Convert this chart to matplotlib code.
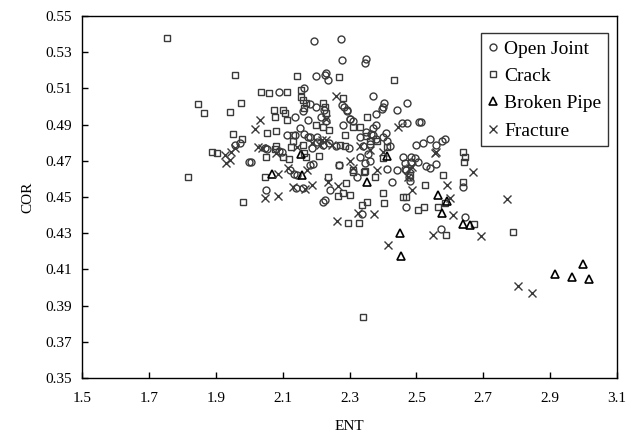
import matplotlib
matplotlib.use('Agg')
import matplotlib.pyplot as plt

plt.rcParams['font.family'] = ['Liberation Serif', 'DejaVu Serif']

# Open Joint
oj_ent = [2.193, 2.273, 2.277, 2.349, 2.346, 2.201, 2.229, 2.226, 2.236, 2.09, 2.164, 2.371,
          2.182, 2.177, 2.216, 2.276, 2.291, 2.301, 2.309, 2.379, 2.403, 2.399, 2.396, 2.441,
          2.471, 2.515, 2.508, 2.456, 2.473, 2.37, 2.365, 2.38, 2.40, 2.411, 2.50, 2.52,
          2.54, 2.56, 2.575, 2.585, 2.46, 2.485, 1.957, 1.972, 2.0, 2.005, 2.05, 2.047,
          2.052, 2.09, 2.097, 2.112, 2.137, 2.137, 2.153, 2.165, 2.176, 2.187, 2.182, 2.202,
          2.202, 2.22, 2.24, 2.26, 2.279, 2.301, 2.293, 2.283, 2.225, 2.23, 2.33, 2.35,
          2.37, 2.34, 2.36, 2.38, 2.33, 2.345, 2.355, 2.36, 2.299, 2.142, 2.182, 2.14,
          2.16, 2.226, 2.22, 2.241, 2.323, 2.336, 2.468, 2.426, 2.465, 2.47, 2.478, 2.48,
          2.411, 2.441, 2.466, 2.483, 2.496, 2.506, 2.53, 2.54, 2.56, 2.64, 2.644, 2.572,
          2.269, 2.122, 2.134, 2.19, 2.2, 2.16, 2.41, 2.42]
oj_cor = [0.5364, 0.5371, 0.5255, 0.5262, 0.5242, 0.5168, 0.5187, 0.5174, 0.5146, 0.508, 0.510, 0.5058,
          0.5014, 0.4925, 0.4944, 0.5008, 0.498, 0.4929, 0.4921, 0.4959, 0.5021, 0.500, 0.4985, 0.498,
          0.5021, 0.4916, 0.4916, 0.4907, 0.491, 0.488, 0.485, 0.490, 0.4833, 0.4811, 0.479, 0.480,
          0.482, 0.479, 0.481, 0.4819, 0.472, 0.472, 0.4787, 0.4797, 0.4695, 0.4692, 0.4539, 0.4769,
          0.4763, 0.4755, 0.475, 0.4843, 0.4843, 0.494, 0.488, 0.485, 0.483, 0.4769, 0.4833, 0.4833,
          0.4805, 0.479, 0.480, 0.478, 0.4898, 0.4929, 0.4975, 0.4995, 0.498, 0.492, 0.4833, 0.486,
          0.4845, 0.478, 0.4795, 0.482, 0.472, 0.469, 0.474, 0.470, 0.4769, 0.4622, 0.4677, 0.455,
          0.455, 0.4484, 0.4475, 0.4539, 0.4609, 0.4406, 0.4443, 0.4585, 0.469, 0.465, 0.461, 0.459,
          0.4653, 0.4649, 0.4653, 0.4695, 0.4714, 0.4695, 0.467, 0.466, 0.468, 0.4553, 0.4388, 0.4321,
          0.4677, 0.465, 0.4627, 0.4685, 0.500, 0.4975, 0.4855, 0.478]

# Crack
cr_ent = [1.753, 1.848, 1.866, 1.818, 1.888, 1.903, 1.957, 1.942, 1.976, 1.951, 1.977, 1.980,
          2.034, 2.060, 2.112, 2.142, 2.154, 2.269, 2.281, 2.075, 2.102, 2.077, 2.107, 2.112,
          2.052, 2.080, 2.226, 2.231, 2.353, 2.434, 2.160, 2.170, 2.155, 2.165, 2.222, 2.20,
          2.222, 2.24, 2.286, 2.311, 2.331, 2.35, 2.36, 2.381, 2.411, 2.132, 2.124, 2.162,
          2.164, 2.271, 2.286, 2.08, 2.077, 2.13, 2.10, 2.047, 2.236, 2.289, 2.266, 2.281,
          2.301, 2.309, 2.343, 2.311, 2.346, 2.269, 2.336, 2.351, 2.294, 2.328, 2.34, 2.401,
          2.403, 2.461, 2.469, 2.376, 2.64, 2.643, 2.645, 2.58, 2.525, 2.64, 2.565, 2.585,
          2.522, 2.505, 2.671, 2.588, 2.789, 2.17, 2.21, 2.05, 2.12, 2.40, 2.48]
cr_cor = [0.5377, 0.5012, 0.4966, 0.4609, 0.4747, 0.4741, 0.5174, 0.4971, 0.5021, 0.4848, 0.4822, 0.4471,
          0.508, 0.5073, 0.508, 0.5168, 0.509, 0.5161, 0.5045, 0.498, 0.498, 0.4944, 0.4962, 0.4925,
          0.4855, 0.4866, 0.4996, 0.4962, 0.4944, 0.5146, 0.5035, 0.502, 0.5055, 0.499, 0.502, 0.490,
          0.4889, 0.487, 0.4843, 0.4885, 0.4885, 0.484, 0.481, 0.4811, 0.4774, 0.4843, 0.4778, 0.4787,
          0.4741, 0.4787, 0.4782, 0.4782, 0.4765, 0.481, 0.472, 0.4612, 0.4612, 0.4579, 0.4506, 0.4524,
          0.4511, 0.464, 0.464, 0.4649, 0.4645, 0.4677, 0.4456, 0.4474, 0.4355, 0.4355, 0.3835, 0.452,
          0.4465, 0.4502, 0.4498, 0.4612, 0.475, 0.4691, 0.4723, 0.4621, 0.4566, 0.4585, 0.4443, 0.4465,
          0.4443, 0.4428, 0.4351, 0.4288, 0.4308, 0.472, 0.4725, 0.472, 0.471, 0.4715, 0.462]

# Broken Pipe
bp_ent = [2.067, 2.154, 2.157, 2.351, 2.411, 2.451, 2.454, 2.565, 2.59, 2.575, 2.638, 2.661,
          2.998, 2.915, 2.964, 3.015]
bp_cor = [0.4627, 0.4738, 0.4622, 0.4585, 0.4727, 0.4303, 0.4174, 0.4511, 0.448, 0.441, 0.4351, 0.4345,
          0.4128, 0.4073, 0.406, 0.4045]

# Fracture
fr_ent = [1.928, 1.942, 1.947, 1.957, 1.93, 2.017, 2.032, 2.027, 2.037, 2.087, 2.117, 2.047,
          2.087, 2.132, 2.172, 2.187, 2.167, 2.236, 2.266, 2.263, 2.326, 2.374, 2.381, 2.414,
          2.259, 2.187, 2.212, 2.217, 2.231, 2.249, 2.231, 2.142, 2.08, 2.446, 2.481, 2.476,
          2.486, 2.486, 2.555, 2.560, 2.59, 2.60, 2.61, 2.67, 2.55, 2.692, 2.77, 2.805,
          2.846, 2.31, 2.36, 2.30, 2.33, 2.40]
fr_cor = [0.4732, 0.4704, 0.475, 0.4769, 0.469, 0.4874, 0.4925, 0.4774, 0.4769, 0.463, 0.4658, 0.4493,
          0.4507, 0.4557, 0.4649, 0.4566, 0.4542, 0.4585, 0.4561, 0.4367, 0.4414, 0.4406, 0.4649, 0.4235,
          0.5058, 0.4797, 0.4787, 0.4815, 0.4815, 0.4787, 0.4933, 0.4778, 0.4745, 0.4888, 0.4658, 0.4612,
          0.4667, 0.4539, 0.4741, 0.475, 0.4566, 0.4493, 0.4401, 0.464, 0.429, 0.4284, 0.4487, 0.4008,
          0.3971, 0.466, 0.476, 0.470, 0.478, 0.475]

x_ticks = [1.5, 1.7, 1.9, 2.1, 2.3, 2.5, 2.7, 2.9, 3.1]
y_ticks = [0.35, 0.37, 0.39, 0.41, 0.43, 0.45, 0.47, 0.49, 0.51, 0.53, 0.55]

fig = plt.figure(figsize=(6.28, 4.43), dpi=100)
ax = fig.add_axes([0.1306, 0.1467, 0.852, 0.817])

gray = '#3a3a3a'
ax.plot(oj_ent, oj_cor, 'o', ms=5, mfc='none', mec=gray, mew=1.0, ls='none', label='Open Joint')
ax.plot(cr_ent, cr_cor, 's', ms=4.6, mfc='none', mec=gray, mew=1.0, ls='none', label='Crack')
ax.plot(bp_ent, bp_cor, '^', ms=5.5, mfc='none', mec='black', mew=1.2, ls='none', label='Broken Pipe')
ax.plot(fr_ent, fr_cor, 'x', ms=5.5, mec=gray, mew=1.0, ls='none', label='Fracture')

ax.set_xlim(1.5, 3.1)
ax.set_ylim(0.35, 0.55)
ax.set_xticks(x_ticks)
ax.set_yticks(y_ticks)
ax.set_xticklabels([f'{v:.1f}' for v in x_ticks])
ax.set_yticklabels([f'{v:.2f}' for v in y_ticks])
ax.tick_params(direction='in', length=4, width=1, labelsize=11)
ax.tick_params(axis='x', pad=10)
ax.tick_params(axis='y', pad=7)
for s in ax.spines.values():
    s.set_linewidth(1.0)

ax.set_xlabel('ENT', fontsize=11, labelpad=11)
ax.set_ylabel('COR', fontsize=11, labelpad=8)

leg = ax.legend(loc='upper right', fontsize=14, frameon=True, fancybox=False,
                edgecolor='black', handletextpad=0.25, labelspacing=0.5,
                borderpad=0.35, handlelength=0.6, borderaxespad=0,
                bbox_to_anchor=(0.983, 0.953))
leg.get_frame().set_linewidth(1.0)

fig.savefig('out.png', dpi=100)
